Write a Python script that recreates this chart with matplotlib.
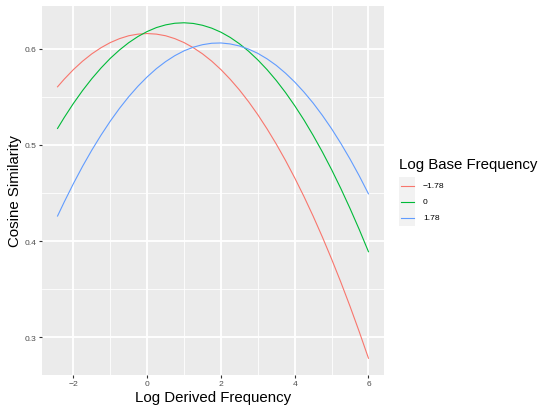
import matplotlib
matplotlib.use("Agg")
import matplotlib.pyplot as plt
from matplotlib.lines import Line2D
from matplotlib.patches import Rectangle

plt.rcParams['font.family'] = ['Liberation Sans', 'DejaVu Sans']

# log derived frequency grid
log_derived = [-2.43, -2.25, -2.0, -1.75, -1.5, -1.25, -1.0, -0.75, -0.5, -0.25,
               0.0, 0.25, 0.5, 0.75, 1.0, 1.25, 1.5, 1.75, 2.0, 2.25,
               2.5, 2.75, 3.0, 3.25, 3.5, 3.75, 4.0, 4.25, 4.5, 4.75,
               5.0, 5.25, 5.5, 5.75, 6.0]

# cosine similarity for each log base frequency
cos_base_neg = [0.5604, 0.5683, 0.5783, 0.5871, 0.5947, 0.6011, 0.6064, 0.6105, 0.6135, 0.6152,
                0.6158, 0.6152, 0.6135, 0.6105, 0.6064, 0.6011, 0.5947, 0.5871, 0.5783, 0.5683,
                0.5572, 0.5449, 0.5314, 0.5167, 0.5009, 0.4839, 0.4657, 0.4464, 0.4259, 0.4042,
                0.3813, 0.3573, 0.3321, 0.3057, 0.2781]
cos_base_zero = [0.5171, 0.5284, 0.5431, 0.5566, 0.5689, 0.5800, 0.5900, 0.5987, 0.6063, 0.6127,
                 0.6179, 0.6220, 0.6248, 0.6265, 0.6270, 0.6263, 0.6244, 0.6214, 0.6172, 0.6118,
                 0.6052, 0.5974, 0.5884, 0.5783, 0.5670, 0.5545, 0.5408, 0.5260, 0.5099, 0.4927,
                 0.4743, 0.4547, 0.4339, 0.4120, 0.3889]
cos_base_pos = [0.4260, 0.4405, 0.4597, 0.4778, 0.4946, 0.5102, 0.5247, 0.5380, 0.5501, 0.5610,
                0.5707, 0.5793, 0.5866, 0.5928, 0.5978, 0.6016, 0.6042, 0.6057, 0.6060, 0.6050,
                0.6029, 0.5996, 0.5952, 0.5895, 0.5827, 0.5746, 0.5654, 0.5550, 0.5435, 0.5307,
                0.5168, 0.5016, 0.4853, 0.4678, 0.4491]

base_labels = ["\u22121.78", "0", "1.78"]
colors = ["#F8766D", "#00BA38", "#619CFF"]

W, H = 541, 406
fig = plt.figure(figsize=(W / 100, H / 100), dpi=100)
ax = fig.add_axes([42 / W, 1 - 376 / H, (384 - 42) / W, (376 - 7) / H])
ax.set_facecolor("#EBEBEB")

for ys, c in zip([cos_base_neg, cos_base_zero, cos_base_pos], colors):
    ax.plot(log_derived, ys, color=c, lw=0.8)

ax.margins(0.05)
ax.set_xticks([-2, 0, 2, 4, 6])
ax.set_xticks([-1, 1, 3, 5], minor=True)
ax.set_yticks([0.3, 0.4, 0.5, 0.6])
ax.set_yticks([0.35, 0.45, 0.55], minor=True)
ax.grid(which="major", color="white", lw=1.3)
ax.grid(which="minor", color="white", lw=0.6)
ax.set_axisbelow(True)
for s in ax.spines.values():
    s.set_visible(False)
ax.tick_params(which="major", length=2.4, width=0.8, color="#333333",
               labelsize=6.1, labelcolor="#4D4D4D", pad=1.5)
ax.tick_params(which="minor", length=0)

ax.set_xlabel("Log Derived Frequency", fontsize=10.8, labelpad=2)
ax.set_ylabel("Cosine Similarity", fontsize=10.8, labelpad=2)

# legend drawn in pixel positions
def fy(py):
    return 1 - py / H

fig.text(399 / W, fy(165), "Log Base Frequency", fontsize=10.8,
         ha="left", va="center")
fig.patches.append(Rectangle((399 / W, fy(227)), 16 / W, 49 / H,
                             transform=fig.transFigure, color="#F2F2F2", lw=0))
for py, c, lab in zip([186.7, 202.7, 219], colors, base_labels):
    fig.lines.append(Line2D([401 / W, 414 / W], [fy(py), fy(py)],
                            transform=fig.transFigure, color=c, lw=0.8))
    fig.text(423 / W, fy(py), lab, fontsize=6.1, ha="left", va="center")

fig.savefig("out.png", dpi=100)
